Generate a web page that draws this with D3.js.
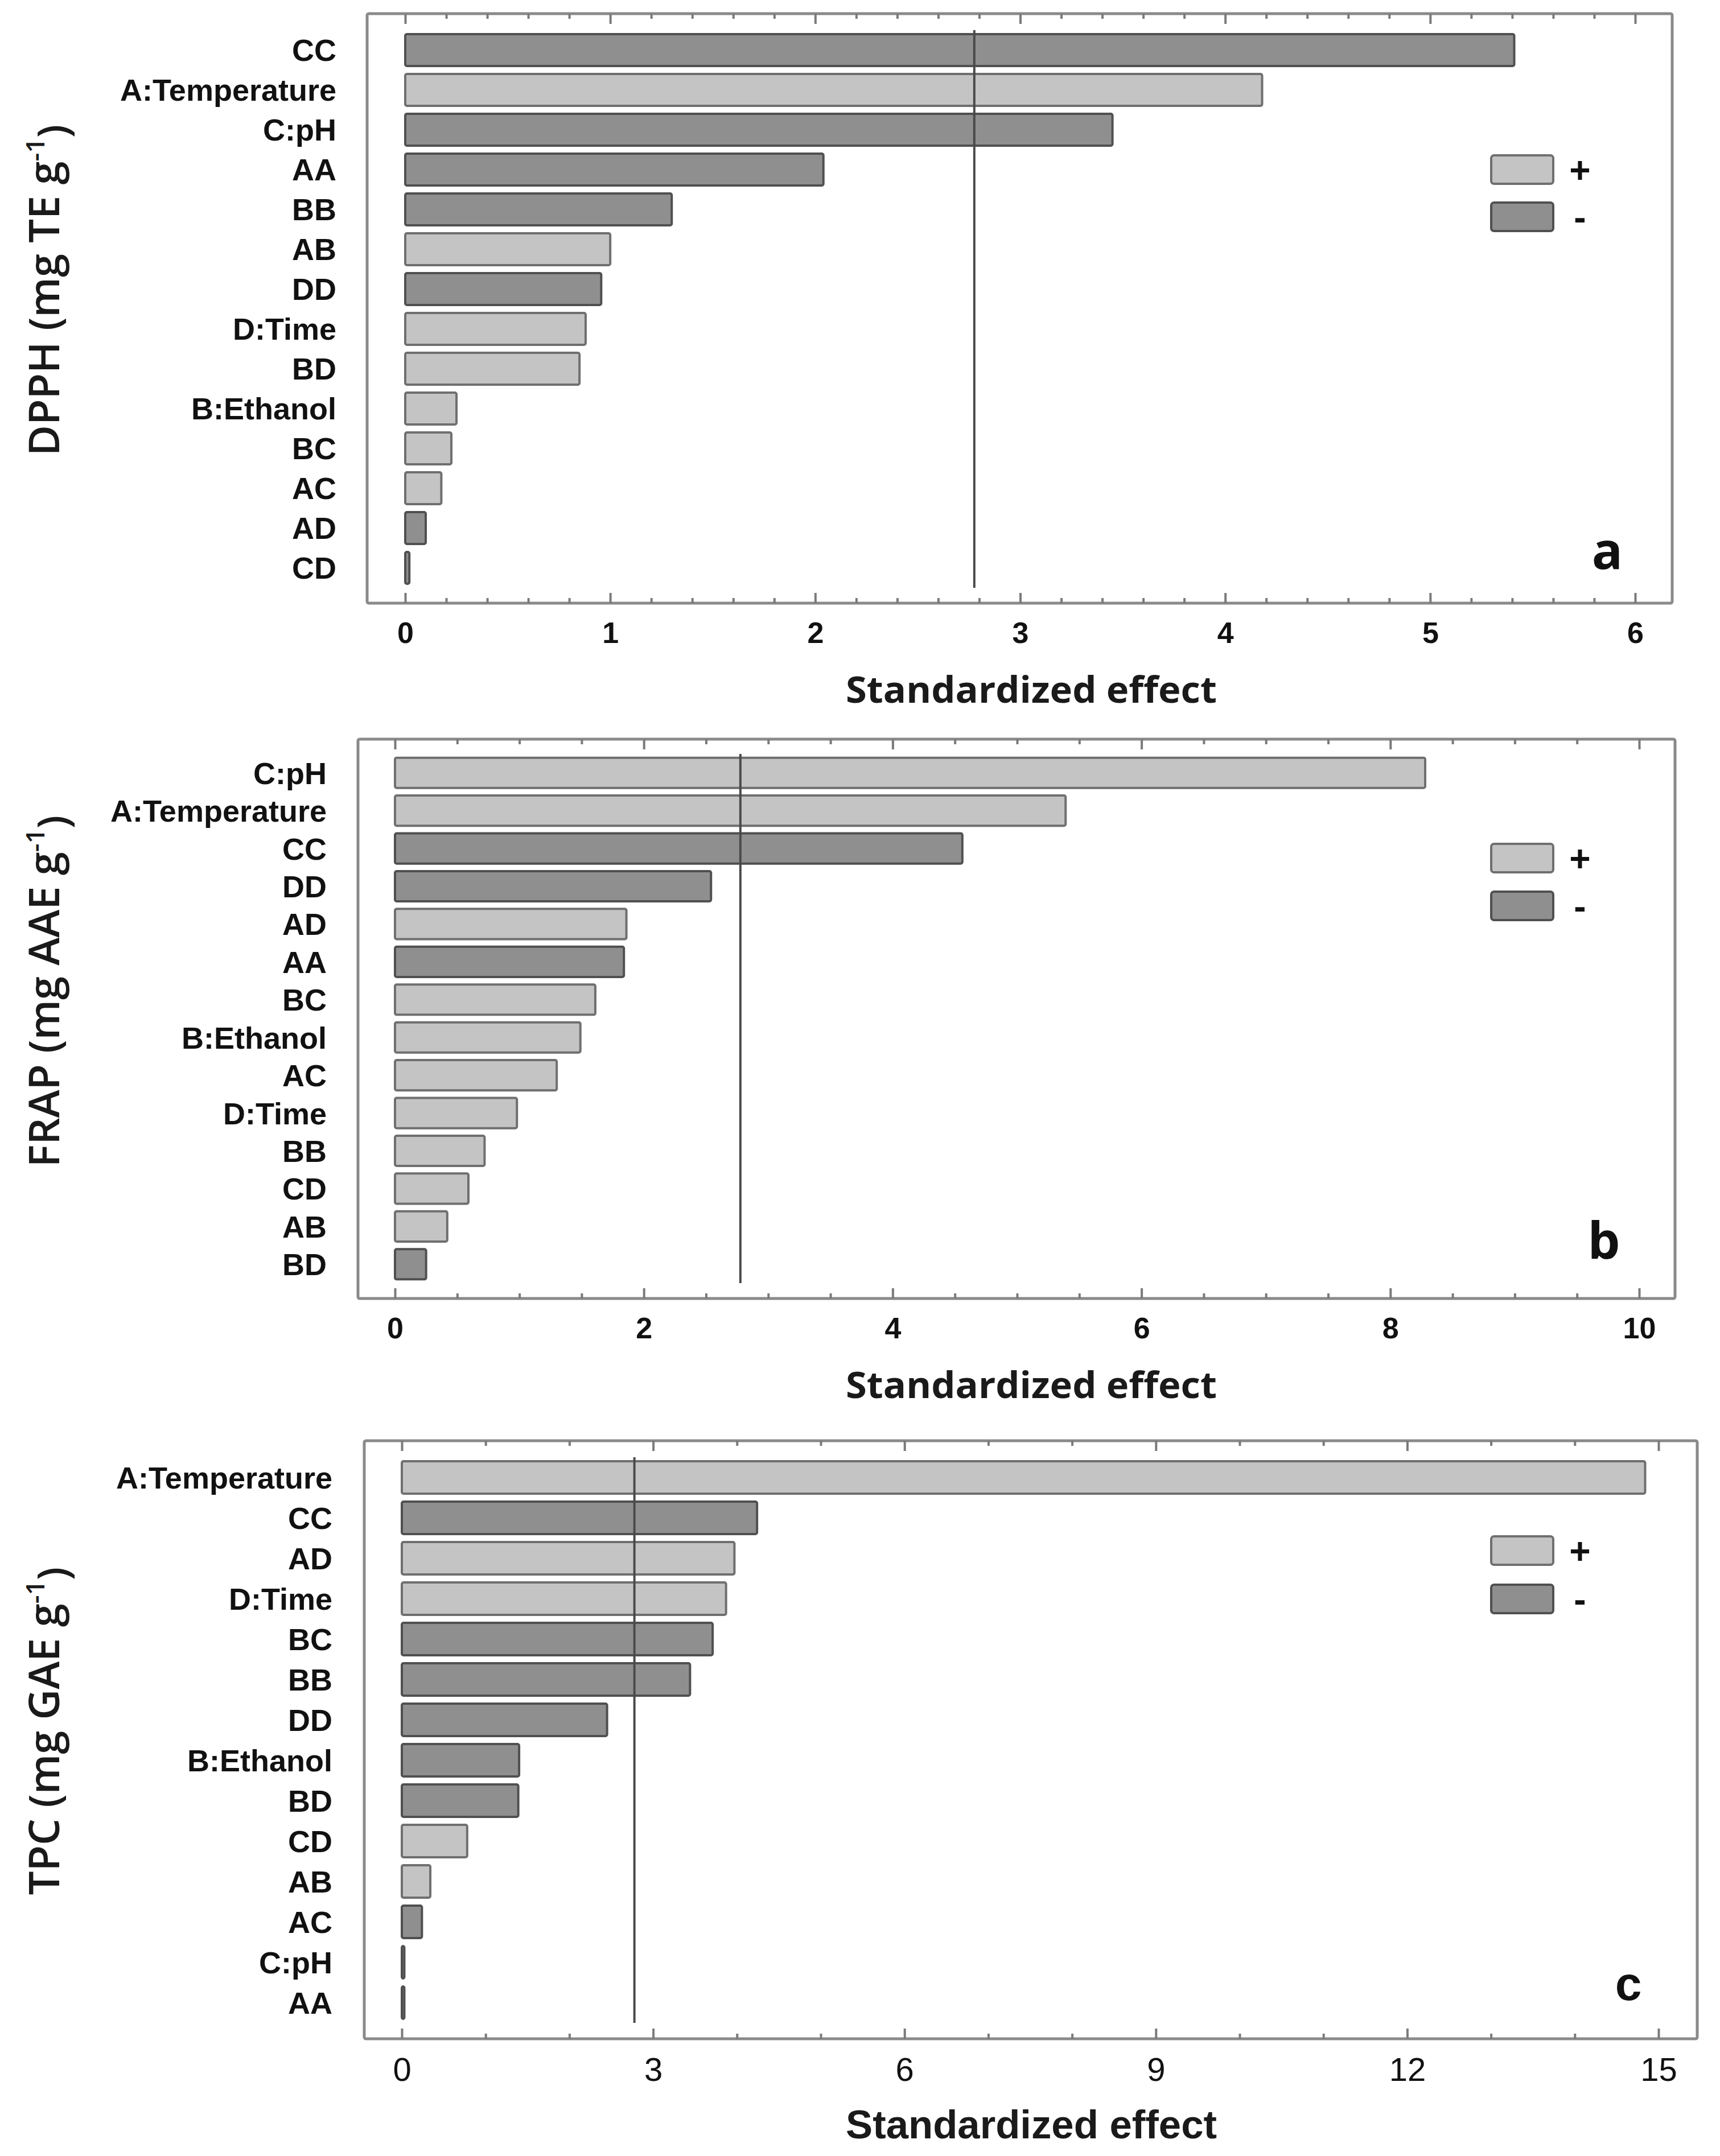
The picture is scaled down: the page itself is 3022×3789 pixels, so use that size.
<!DOCTYPE html>
<html><head><meta charset="utf-8">
<script src="https://cdn.jsdelivr.net/npm/d3@7/dist/d3.min.js"></script>
<style>html,body{margin:0;padding:0;background:#fff}</style>
</head><body>
<script>
// ---------- DATA ----------
const termsA   = ["CC","A:Temperature","C:pH","AA","BB","AB","DD","D:Time","BD","B:Ethanol","BC","AC","AD","CD"];
const effectsA = [5.41,4.18,3.45,2.04,1.30,1.00,0.956,0.88,0.85,0.25,0.225,0.176,0.10,0.02];
const signsA   = ["-","+","-","-","-","+","-","+","+","+","+","+","-","-"];

const termsB   = ["C:pH","A:Temperature","CC","DD","AD","AA","BC","B:Ethanol","AC","D:Time","BB","CD","AB","BD"];
const effectsB = [8.28,5.39,4.56,2.54,1.86,1.84,1.61,1.49,1.30,0.98,0.72,0.59,0.42,0.25];
const signsB   = ["+","+","-","-","+","-","+","+","+","+","+","+","+","-"];

const termsC   = ["A:Temperature","CC","AD","D:Time","BC","BB","DD","B:Ethanol","BD","CD","AB","AC","C:pH","AA"];
const effectsC = [14.84,4.24,3.97,3.87,3.71,3.44,2.45,1.40,1.39,0.78,0.34,0.24,0.03,0.03];
const signsC   = ["+","-","+","+","-","-","-","-","-","+","+","-","-","-"];

const ticksA = [0,1,2,3,4,5,6];
const ticksB = [0,2,4,6,8,10];
const ticksC = [0,3,6,9,12,15];
const criticalT = 2.776;
const legendLabels = ["+","-"];
const yTitles = [["DPPH (mg TE g","-1",")"],["FRAP (mg AAE g","-1",")"],["TPC (mg GAE g","-1",")"]];
const panelLetters = ["a","b","c"];
const xTitle = "Standardized effect";

// ---------- STYLE / LAYOUT ----------
const W = 3022, H = 3789;
const fillPos = "#c4c4c4", fillNeg = "#8f8f8f";
const strokePos = "#6f6f6f", strokeNeg = "#505050";
const frameColor = "#8a8a8a";

const panels = [
  {terms:termsA, effects:effectsA, signs:signsA, ticks:ticksA, minor:0.2, max:6,
   frame:{l:645,r:2938,t:24,b:1060}, xr:[712,2873], band:[53,1033], labelRight:591,
   legendY:[298,381], letterPos:[2824,1000], titleY:510, xTitleY:1212, narrow:false},
  {terms:termsB, effects:effectsB, signs:signsB, ticks:ticksB, minor:0.5, max:10,
   frame:{l:629,r:2943,t:1299,b:2282}, xr:[694,2880], band:[1325,2255], labelRight:574,
   legendY:[1508,1592], letterPos:[2818,2212], titleY:1742, xTitleY:2434, narrow:false},
  {terms:termsC, effects:effectsC, signs:signsC, ticks:ticksC, minor:1, max:15,
   frame:{l:640,r:2982,t:2532,b:3583}, xr:[706,2914], band:[2561,3555], labelRight:584,
   legendY:[2725,2810], letterPos:[2861,3515], titleY:3042, xTitleY:3733, narrow:true}
];

const svg = d3.select("body").append("svg").attr("width",W).attr("height",H)
  .style("font-family","'Liberation Sans', Arial, sans-serif");

panels.forEach((p,pi)=>{
  const g = svg.append("g");
  const x = d3.scaleLinear().domain([0,p.max]).range(p.xr);
  const y = d3.scaleBand().domain(p.terms).range(p.band).paddingInner(0.2).paddingOuter(0.1);

  // frame
  g.append("rect").attr("x",p.frame.l).attr("y",p.frame.t)
    .attr("width",p.frame.r-p.frame.l).attr("height",p.frame.b-p.frame.t)
    .attr("fill","none").attr("stroke",frameColor).attr("stroke-width",5).attr("rx",3);

  // minor ticks (inward, top and bottom)
  const minorTicks = d3.range(0, p.max+1e-9, p.minor).filter(v=>!p.ticks.some(t=>Math.abs(t-v)<1e-9));
  const axB = g.append("g").attr("transform",`translate(0,${p.frame.b})`)
    .call(d3.axisBottom(x).tickValues(minorTicks).tickSize(-9).tickFormat(""));
  const axT = g.append("g").attr("transform",`translate(0,${p.frame.t})`)
    .call(d3.axisTop(x).tickValues(minorTicks).tickSize(-9).tickFormat(""));
  // major ticks
  const fs = p.narrow ? 58 : 52;
  const axBM = g.append("g").attr("transform",`translate(0,${p.frame.b})`)
    .call(d3.axisBottom(x).tickValues(p.ticks).tickSize(-18).tickPadding(33).tickFormat(d3.format("d")));
  const axTM = g.append("g").attr("transform",`translate(0,${p.frame.t})`)
    .call(d3.axisTop(x).tickValues(p.ticks).tickSize(-18).tickFormat(""));
  [axB,axT,axBM,axTM].forEach(a=>{
    a.select(".domain").remove();
    a.selectAll(".tick line").attr("stroke","#7a7a7a").attr("stroke-width",4);
  });
  axBM.selectAll(".tick text").attr("fill","#111")
    .style("font-size",fs+"px")
    .style("font-weight", p.narrow ? "normal" : "bold")
    .style("font-family", p.narrow ? "'Liberation Sans Narrow','Arial Narrow',sans-serif" : "'Liberation Sans',Arial,sans-serif");

  // bars
  g.selectAll("rect.bar").data(p.terms).join("rect").attr("class","bar")
    .attr("x",x(0)).attr("y",d=>y(d))
    .attr("width",(d,i)=>Math.max(x(p.effects[i])-x(0),2))
    .attr("height",y.bandwidth()).attr("rx",3)
    .attr("fill",(d,i)=>p.signs[i]==="+"?fillPos:fillNeg)
    .attr("stroke",(d,i)=>p.signs[i]==="+"?strokePos:strokeNeg)
    .attr("stroke-width",4);

  // reference line
  g.append("line").attr("x1",x(criticalT)).attr("x2",x(criticalT))
    .attr("y1",p.band[0]).attr("y2",p.band[1])
    .attr("stroke","#4a4a4a").attr("stroke-width",4);

  // category labels
  g.selectAll("text.cat").data(p.terms).join("text").attr("class","cat")
    .attr("x",p.labelRight).attr("y",d=>y(d)+y.bandwidth()/2)
    .attr("dy","0.36em").attr("text-anchor","end")
    .style("font-size","54px").style("font-weight","bold").attr("fill","#111")
    .text(d=>d);

  // legend
  legendLabels.forEach((lab,li)=>{
    const cy = p.legendY[li];
    g.append("rect").attr("x",2620).attr("y",cy-25).attr("width",109).attr("height",50).attr("rx",5)
      .attr("fill",lab==="+"?fillPos:fillNeg).attr("stroke",lab==="+"?strokePos:strokeNeg).attr("stroke-width",4);
    g.append("text").attr("x",2776).attr("y",cy).attr("dy","0.36em").attr("text-anchor","middle")
      .style("font-size", lab==="+" ? "64px" : "64px").style("font-weight","bold").attr("fill","#111")
      .text(lab);
  });

  // panel letter
  g.append("text").attr("x",p.letterPos[0]).attr("y",p.letterPos[1]).attr("text-anchor","middle")
    .style("font-family", p.narrow ? "'Liberation Sans Narrow','Arial Narrow',sans-serif" : "'Open Sans',sans-serif")
    .style("font-size", p.narrow ? "84px" : "90px").style("font-weight","bold").attr("fill","#111")
    .text(panelLetters[pi]);

  // x title
  g.append("text").attr("x",1812).attr("y",p.xTitleY).attr("dy","0.36em").attr("text-anchor","middle")
    .attr("textLength",652).attr("lengthAdjust","spacingAndGlyphs")
    .style("font-family", p.narrow ? "'Liberation Sans Narrow','Arial Narrow',sans-serif" : "'Open Sans',sans-serif")
    .style("font-size", p.narrow ? "70px" : "64px").style("font-weight","bold").attr("fill","#1a1a1a")
    .text(xTitle);

  // y title
  const t = g.append("text").attr("transform",`translate(77,${p.titleY}) rotate(-90)`)
    .attr("text-anchor","middle").attr("dy","0.36em")
    .style("font-family","'Open Sans',sans-serif").style("font-size","74px").style("font-weight","600").attr("fill","#1a1a1a");
  const tt = yTitles[pi];
  t.append("tspan").text(tt[0]);
  t.append("tspan").attr("dy","-0.55em").style("font-size","46px").text(tt[1]);
  t.append("tspan").attr("dy","0.55em").text(tt[2]);
});
</script>
</body></html>
